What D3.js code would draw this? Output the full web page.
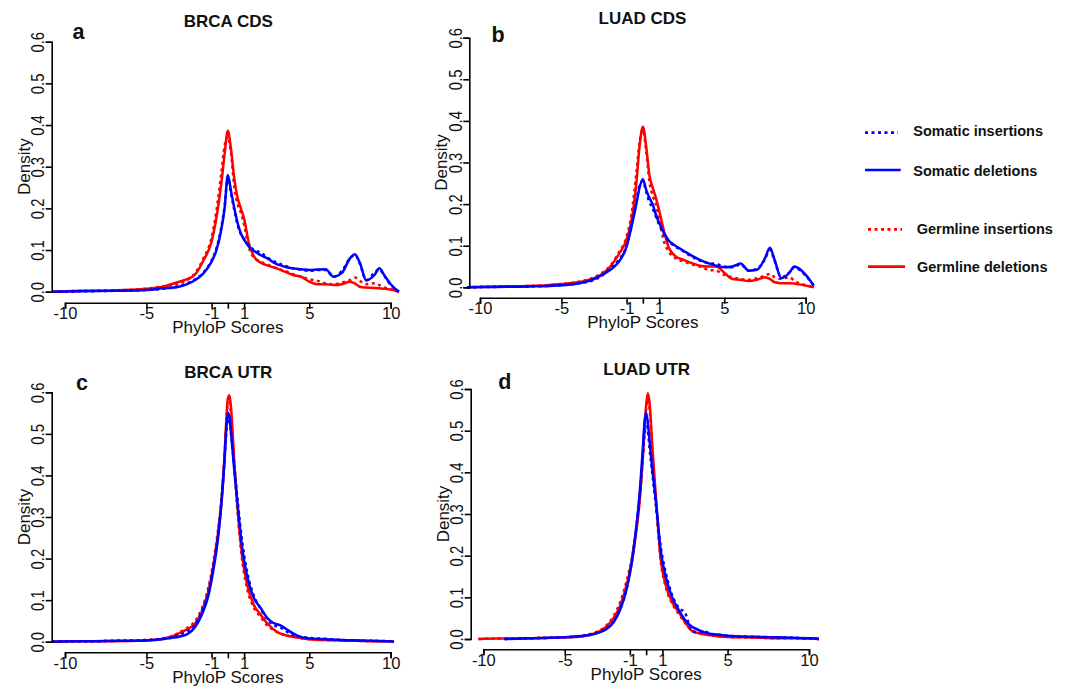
<!DOCTYPE html>
<html>
<head>
<meta charset="utf-8">
<script src="https://cdn.jsdelivr.net/npm/d3@7"></script>
<style>
  html, body { margin: 0; padding: 0; background: #fff; }
  svg { display: block; font-family: "Liberation Sans", Arial, Helvetica, sans-serif; }
</style>
</head>
<body>
<svg id="chart" width="1083" height="686"></svg>
<script>
// ---------------- DATA ----------------
const xTicks = [-10, -5, -1, 0, 1, 5, 10];
const xTickLabels = ["-10", "-5", "-1", "", "1", "5", "10"];
const yTicks = [0.0, 0.1, 0.2, 0.3, 0.4, 0.5, 0.6];
const panelTitles = ["BRCA CDS", "LUAD CDS", "BRCA UTR", "LUAD UTR"];
const panelLetters = ["a", "b", "c", "d"];
const seriesNames = ["Somatic insertions", "Somatic deletions", "Germline insertions", "Germline deletions"];
const xLabel = "PhyloP Scores";
const yLabel = "Density";

// PhyloP score grid for the CDS panels
const cdsX = [-10.8, -9, -7, -5, -4, -3, -2.5, -2, -1.5, -1, -0.7, -0.4, -0.2, 0, 0.2, 0.4, 0.6, 0.8, 1.0, 1.3, 1.6, 2, 2.5, 3, 3.5, 4, 4.5, 5, 5.5, 6, 6.5, 7, 7.5, 7.8, 8.1, 8.5, 9, 9.3, 9.6, 10, 10.5];

// a: BRCA CDS
const aSomIns = [0, 0.001, 0.002, 0.004, 0.007, 0.013, 0.02, 0.03, 0.046, 0.075, 0.104, 0.155, 0.205, 0.275, 0.235, 0.195, 0.16, 0.138, 0.126, 0.11, 0.1, 0.094, 0.08, 0.07, 0.062, 0.056, 0.053, 0.05, 0.052, 0.052, 0.036, 0.05, 0.08, 0.088, 0.068, 0.028, 0.045, 0.054, 0.038, 0.016, 0];
const aSomDel = [0, 0.001, 0.002, 0.004, 0.008, 0.012, 0.018, 0.028, 0.044, 0.072, 0.1, 0.15, 0.2, 0.28, 0.24, 0.2, 0.165, 0.14, 0.125, 0.108, 0.098, 0.088, 0.078, 0.066, 0.06, 0.056, 0.054, 0.052, 0.053, 0.054, 0.036, 0.045, 0.08, 0.09, 0.07, 0.027, 0.04, 0.056, 0.04, 0.018, 0];
const aGerIns = [0, 0.002, 0.003, 0.007, 0.013, 0.02, 0.028, 0.045, 0.08, 0.13, 0.195, 0.285, 0.35, 0.372, 0.33, 0.25, 0.21, 0.19, 0.16, 0.105, 0.082, 0.072, 0.064, 0.056, 0.05, 0.042, 0.036, 0.03, 0.026, 0.02, 0.018, 0.022, 0.028, 0.034, 0.026, 0.018, 0.02, 0.016, 0.01, 0.006, 0];
const aGerDel = [0, 0.002, 0.003, 0.007, 0.012, 0.024, 0.03, 0.042, 0.075, 0.12, 0.178, 0.26, 0.33, 0.386, 0.34, 0.27, 0.225, 0.2, 0.175, 0.115, 0.085, 0.07, 0.062, 0.056, 0.048, 0.04, 0.036, 0.024, 0.018, 0.018, 0.016, 0.018, 0.024, 0.02, 0.012, 0.01, 0.009, 0.008, 0.007, 0.005, 0];

// b: LUAD CDS
const bSomIns = [0, 0.001, 0.002, 0.005, 0.009, 0.018, 0.028, 0.045, 0.065, 0.1, 0.15, 0.205, 0.245, 0.255, 0.23, 0.205, 0.19, 0.17, 0.15, 0.128, 0.11, 0.098, 0.086, 0.074, 0.064, 0.058, 0.056, 0.05, 0.048, 0.055, 0.04, 0.044, 0.068, 0.09, 0.062, 0.024, 0.036, 0.048, 0.042, 0.028, 0.004];
const bSomDel = [0, 0.001, 0.002, 0.005, 0.009, 0.02, 0.03, 0.042, 0.06, 0.098, 0.145, 0.2, 0.24, 0.26, 0.235, 0.215, 0.2, 0.175, 0.155, 0.13, 0.112, 0.1, 0.088, 0.076, 0.066, 0.058, 0.052, 0.048, 0.05, 0.057, 0.04, 0.042, 0.07, 0.095, 0.065, 0.022, 0.035, 0.05, 0.045, 0.03, 0.004];
const bGerIns = [0, 0.002, 0.003, 0.008, 0.013, 0.024, 0.035, 0.052, 0.082, 0.122, 0.175, 0.275, 0.35, 0.378, 0.33, 0.255, 0.22, 0.2, 0.165, 0.11, 0.085, 0.07, 0.062, 0.055, 0.05, 0.042, 0.04, 0.03, 0.024, 0.02, 0.018, 0.022, 0.028, 0.032, 0.024, 0.02, 0.024, 0.016, 0.01, 0.005, 0];
const bGerDel = [0, 0.002, 0.003, 0.008, 0.012, 0.022, 0.032, 0.05, 0.078, 0.115, 0.16, 0.25, 0.34, 0.386, 0.34, 0.27, 0.24, 0.215, 0.185, 0.135, 0.095, 0.075, 0.066, 0.058, 0.052, 0.05, 0.05, 0.035, 0.02, 0.018, 0.015, 0.018, 0.024, 0.02, 0.012, 0.01, 0.01, 0.009, 0.007, 0.004, 0];

// PhyloP score grid for the UTR panels
const utrX = [-10.8, -10.3, -9, -8.7, -7, -5, -4, -3.5, -3, -2.5, -2, -1.6, -1.2, -0.9, -0.6, -0.4, -0.2, -0.1, 0, 0.1, 0.2, 0.4, 0.6, 0.9, 1.2, 1.6, 2, 2.4, 2.8, 3.2, 3.6, 4, 4.5, 5, 6, 7, 8, 9, 10, 10.2, 10.6];

// c: BRCA UTR
const cSomIns = [0, 0.0005, 0.001, 0.001, 0.002, 0.004, 0.007, 0.01, 0.016, 0.025, 0.042, 0.075, 0.12, 0.18, 0.26, 0.34, 0.44, 0.5, 0.535, 0.53, 0.5, 0.42, 0.34, 0.235, 0.165, 0.11, 0.08, 0.055, 0.04, 0.035, 0.025, 0.016, 0.012, 0.009, 0.007, 0.004, 0.003, 0.002, 0.001, 0, null];
const cSomDel = [0, 0.0005, 0.001, 0.001, 0.002, 0.003, 0.006, 0.009, 0.012, 0.018, 0.036, 0.065, 0.11, 0.17, 0.25, 0.33, 0.44, 0.51, 0.551, 0.54, 0.5, 0.41, 0.33, 0.22, 0.155, 0.105, 0.082, 0.058, 0.045, 0.04, 0.03, 0.02, 0.011, 0.008, 0.006, 0.004, 0.003, 0.002, 0.001, 0, null];
const cGerIns = [0, 0.0005, 0.001, 0.001, 0.002, 0.004, 0.008, 0.012, 0.022, 0.033, 0.05, 0.08, 0.13, 0.19, 0.27, 0.34, 0.45, 0.52, 0.57, 0.575, 0.54, 0.42, 0.31, 0.19, 0.125, 0.082, 0.06, 0.04, 0.028, 0.02, 0.015, 0.012, 0.008, 0.006, 0.004, 0.003, 0.002, 0.001, 0.001, 0, null];
const cGerDel = [0, 0.0005, 0.001, 0.001, 0.001, 0.003, 0.007, 0.012, 0.02, 0.03, 0.044, 0.072, 0.12, 0.18, 0.26, 0.33, 0.45, 0.53, 0.585, 0.593, 0.56, 0.43, 0.32, 0.2, 0.135, 0.088, 0.066, 0.045, 0.03, 0.02, 0.015, 0.012, 0.009, 0.006, 0.004, 0.003, 0.002, 0.001, 0.001, 0, null];

// d: LUAD UTR
const dSomIns = [null, null, null, 0, 0.002, 0.004, 0.007, 0.01, 0.015, 0.024, 0.042, 0.072, 0.12, 0.18, 0.27, 0.34, 0.44, 0.49, 0.51, 0.5, 0.46, 0.39, 0.32, 0.22, 0.16, 0.105, 0.075, 0.062, 0.02, 0.016, 0.018, 0.012, 0.01, 0.008, 0.006, 0.005, 0.004, 0.003, 0.002, 0.002, 0];
const dSomDel = [null, null, null, 0, 0.002, 0.004, 0.007, 0.009, 0.014, 0.022, 0.04, 0.07, 0.12, 0.18, 0.27, 0.35, 0.46, 0.52, 0.543, 0.52, 0.48, 0.4, 0.33, 0.21, 0.15, 0.1, 0.07, 0.045, 0.03, 0.022, 0.016, 0.012, 0.01, 0.008, 0.006, 0.005, 0.004, 0.003, 0.002, 0.002, 0];
const dGerIns = [null, 0, 0.001, 0.001, 0.002, 0.004, 0.007, 0.011, 0.018, 0.03, 0.055, 0.088, 0.14, 0.19, 0.27, 0.34, 0.44, 0.5, 0.55, 0.575, 0.555, 0.44, 0.33, 0.185, 0.125, 0.085, 0.06, 0.038, 0.02, 0.014, 0.011, 0.009, 0.006, 0.005, 0.004, 0.003, 0.002, 0.002, 0.001, 0.001, 0];
const dGerDel = [null, 0, 0.001, 0.001, 0.002, 0.004, 0.006, 0.01, 0.016, 0.028, 0.05, 0.08, 0.13, 0.18, 0.26, 0.33, 0.44, 0.51, 0.56, 0.59, 0.57, 0.45, 0.34, 0.19, 0.13, 0.088, 0.065, 0.04, 0.02, 0.014, 0.011, 0.009, 0.006, 0.005, 0.004, 0.003, 0.002, 0.002, 0.001, 0.001, 0];

// ---------------- LAYOUT / STYLE ----------------
const BLUE = "#0000ff", RED = "#ff0000";
const seriesStyle = [
  { color: BLUE, dash: "3,3.5" },   // Somatic insertions
  { color: BLUE, dash: null },      // Somatic deletions
  { color: RED,  dash: "3,3.5" },   // Germline insertions
  { color: RED,  dash: null }       // Germline deletions
];
const drawOrder = [2, 3, 1, 0];

const panels = [
  { x: cdsX, ys: [aSomIns, aSomDel, aGerIns, aGerDel], x0: 65, x1: 390.7, yb: 291.7, yt: 41.7, ax: 51.7, ay: 302.7,
    title: [228.3, 27.3], letter: [72.5, 39] },
  { x: cdsX, ys: [bSomIns, bSomDel, bGerIns, bGerDel], x0: 480, x1: 805.7, yb: 287.3, yt: 37.7, ax: 469.3, ay: 297.7,
    title: [642.5, 24], letter: [491.5, 41.5] },
  { x: utrX, ys: [cSomIns, cSomDel, cGerIns, cGerDel], x0: 65, x1: 390.7, yb: 641.7, yt: 392.3, ax: 51.7, ay: 652.3,
    title: [228.3, 378.3], letter: [76, 390] },
  { x: utrX, ys: [dSomIns, dSomDel, dGerIns, dGerDel], x0: 483.3, x1: 809, yb: 639, yt: 389, ax: 470.7, ay: 649.3,
    title: [646.7, 375], letter: [498.3, 389.3] }
];

const svg = d3.select("#chart");
const TXT = "#111";

panels.forEach((p, i) => {
  const g = svg.append("g");
  const x = d3.scaleLinear().domain([-10, 10]).range([p.x0, p.x1]);
  const y = d3.scaleLinear().domain([0, 0.6]).range([p.yb, p.yt]);

  // curves
  const line = d3.line()
    .defined(d => d[1] != null)
    .x(d => x(d[0]))
    .y(d => y(d[1]))
    .curve(d3.curveMonotoneX);

  drawOrder.forEach(k => {
    const pts = p.x.map((v, j) => [v, p.ys[k][j]]);
    g.append("path")
      .attr("d", line(pts))
      .attr("fill", "none")
      .attr("stroke", seriesStyle[k].color)
      .attr("stroke-width", 2.5)
      .attr("stroke-linejoin", "round")
      .attr("stroke-dasharray", seriesStyle[k].dash);
  });

  // x axis
  const xa = g.append("g")
    .attr("transform", `translate(0,${p.ay})`)
    .call(d3.axisBottom(x).tickValues(xTicks)
      .tickFormat((d, j) => xTickLabels[j]).tickSizeOuter(0).tickSize(6).tickPadding(3));
  xa.select(".domain").attr("stroke", "#000").attr("stroke-width", 1.6);
  xa.selectAll(".tick line").attr("stroke", "#000").attr("stroke-width", 1.6);
  xa.selectAll(".tick text")
    .attr("fill", TXT)
    .attr("font-size", 16.5)
    .attr("font-family", "Liberation Sans, Arial, sans-serif")
    .attr("dy", null)
    .attr("y", 16.5);

  // y axis
  const ya = g.append("g")
    .attr("transform", `translate(${p.ax},0)`)
    .call(d3.axisLeft(y).tickValues(yTicks).tickFormat(d3.format(".1f")).tickSizeOuter(0).tickSize(6));
  ya.select(".domain").attr("stroke", "#000").attr("stroke-width", 1.6);
  ya.selectAll(".tick line").attr("stroke", "#000").attr("stroke-width", 1.6);
  ya.selectAll(".tick text")
    .attr("fill", TXT)
    .attr("font-size", 16)
    .attr("font-family", "Liberation Sans, Arial, sans-serif")
    .attr("text-anchor", "middle")
    .attr("transform", "rotate(-90) scale(0.93,1.1)")
    .attr("x", 0)
    .attr("y", -7)
    .attr("dy", null);

  // axis titles
  g.append("text")
    .attr("x", x(0)).attr("y", p.ay + 30.7)
    .attr("text-anchor", "middle")
    .attr("font-size", 17).attr("fill", TXT)
    .text(xLabel);
  g.append("text")
    .attr("transform", `translate(${p.ax - 22},${(p.yb + p.yt) / 2}) rotate(-90)`)
    .attr("text-anchor", "middle")
    .attr("font-size", 17).attr("fill", TXT)
    .text(yLabel);

  // panel title and letter
  g.append("text")
    .attr("x", p.title[0]).attr("y", p.title[1])
    .attr("text-anchor", "middle")
    .attr("font-size", 17).attr("font-weight", "bold").attr("fill", TXT)
    .text(panelTitles[i]);
  g.append("text")
    .attr("x", p.letter[0]).attr("y", p.letter[1])
    .attr("font-size", 21.5).attr("font-weight", "bold").attr("fill", TXT)
    .text(panelLetters[i]);
});

// ---------------- LEGEND ----------------
const legendPos = [
  { lx0: 865, lx1: 898, ly: 132.7, tx: 913.3, ty: 136 },
  { lx0: 865, lx1: 900.7, ly: 170, tx: 913.3, ty: 175.7 },
  { lx0: 868, lx1: 902, ly: 229.3, tx: 916.7, ty: 234 },
  { lx0: 868, lx1: 905, ly: 266.7, tx: 917, ty: 272.3 }
];
const lg = svg.append("g");
seriesNames.forEach((name, k) => {
  const L = legendPos[k];
  lg.append("line")
    .attr("x1", L.lx0).attr("x2", L.lx1).attr("y1", L.ly).attr("y2", L.ly)
    .attr("stroke", seriesStyle[k].color)
    .attr("stroke-width", 2.7)
    .attr("stroke-dasharray", seriesStyle[k].dash);
  lg.append("text")
    .attr("x", L.tx).attr("y", L.ty)
    .attr("font-size", 14.5).attr("font-weight", "bold").attr("fill", TXT)
    .text(name);
});
</script>
</body>
</html>
